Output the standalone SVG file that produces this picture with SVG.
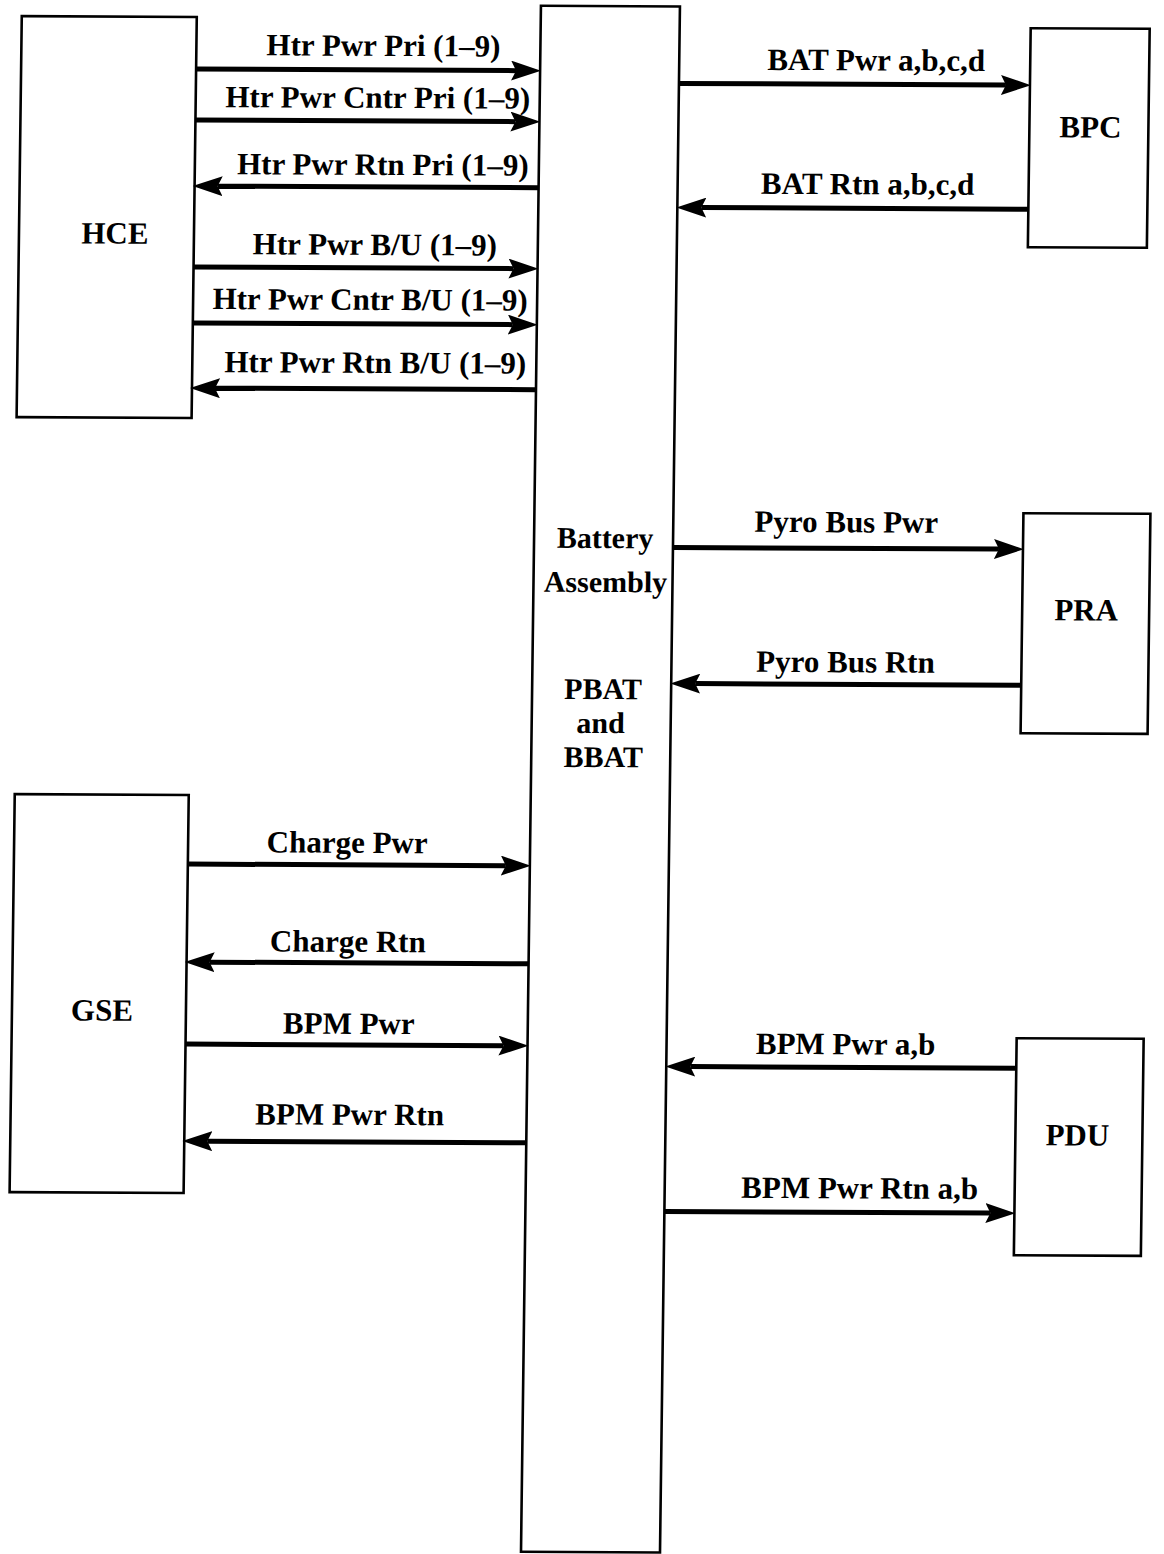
<svg xmlns="http://www.w3.org/2000/svg" width="1164" height="1554" viewBox="0 0 1164 1554">
<style>
.box{fill:none;stroke:#000;stroke-width:2.6}
.ln{fill:none;stroke:#000;stroke-width:5;marker-end:url(#ah)}
text{font-family:"Liberation Serif","Times New Roman",serif;font-weight:bold;font-size:31px;fill:#000;text-anchor:middle}
.bt{font-size:30px}
</style>
<defs>
<marker id="ah" markerUnits="userSpaceOnUse" viewBox="0 0 30 20" markerWidth="30" markerHeight="20" refX="5" refY="10" orient="auto">
<path d="M0,0 L30,10 L0,20 L5,10 Z" fill="#000"/>
</marker>
</defs>
<rect width="1164" height="1554" fill="#fff"/>
<g transform="matrix(1 0.005 -0.0129 1 10.02 -2.91)">
<g id="battery"><rect class="box" x="531" y="6" width="139" height="1546"/>
<text class="bt" x="602" y="548">Battery</text>
<text class="bt" x="603" y="592">Assembly</text>
<text class="bt" x="602" y="699">PBAT</text>
<text class="bt" x="600" y="733">and</text>
<text class="bt" x="603" y="767">BBAT</text></g>
<g id="hce"><rect class="box" x="12" y="19" width="175" height="401"/><text x="108" y="246">HCE</text></g>
<g id="bpc"><rect class="box" x="1021" y="26" width="119" height="219"/><text x="1082" y="135">BPC</text></g>
<g id="pra"><rect class="box" x="1020" y="511" width="127" height="220"/><text x="1084" y="618">PRA</text></g>
<g id="gse"><rect class="box" x="15" y="797" width="174" height="398"/><text x="105" y="1023">GSE</text></g>
<g id="pdu"><rect class="box" x="1020" y="1036" width="127" height="217"/><text x="1082" y="1143">PDU</text></g>
<g id="connectors">
<line class="ln" x1="187" y1="71" x2="507" y2="71"/>
<text x="374" y="57">Htr Pwr Pri (1–9)</text>
<line class="ln" x1="187" y1="122" x2="507" y2="122"/>
<text x="369" y="109">Htr Pwr Cntr Pri (1–9)</text>
<line class="ln" x1="531" y1="188" x2="210" y2="188"/>
<text x="375" y="176">Htr Pwr Rtn Pri (1–9)</text>
<line class="ln" x1="187" y1="269" x2="507" y2="269"/>
<text x="368" y="256">Htr Pwr B/U (1–9)</text>
<line class="ln" x1="187" y1="325" x2="507" y2="325"/>
<text x="364" y="311">Htr Pwr Cntr B/U (1–9)</text>
<line class="ln" x1="531" y1="390" x2="210" y2="390"/>
<text x="370" y="374">Htr Pwr Rtn B/U (1–9)</text>

<line class="ln" x1="670" y1="83" x2="997" y2="83"/>
<text x="867" y="69">BAT Pwr a,b,c,d</text>
<line class="ln" x1="1021" y1="207" x2="694" y2="207"/>
<text x="860" y="193">BAT Rtn a,b,c,d</text>
<line class="ln" x1="670" y1="547" x2="996" y2="547"/>
<text x="843" y="531">Pyro Bus Pwr</text>
<line class="ln" x1="1020" y1="683" x2="694" y2="683"/>
<text x="844" y="671">Pyro Bus Rtn</text>

<line class="ln" x1="189" y1="866" x2="507" y2="866"/>
<text x="348" y="854">Charge Pwr</text>
<line class="ln" x1="531" y1="964" x2="212" y2="964"/>
<text x="350" y="953">Charge Rtn</text>
<line class="ln" x1="189" y1="1046" x2="507" y2="1046"/>
<text x="352" y="1035">BPM Pwr</text>
<line class="ln" x1="531" y1="1143" x2="212" y2="1143"/>
<text x="354" y="1126">BPM Pwr Rtn</text>

<line class="ln" x1="1020" y1="1066" x2="694" y2="1066"/>
<text x="849" y="1053">BPM Pwr a,b</text>
<line class="ln" x1="670" y1="1211" x2="996" y2="1211"/>
<text x="865" y="1197">BPM Pwr Rtn a,b</text>
</g>
</g>
</svg>
